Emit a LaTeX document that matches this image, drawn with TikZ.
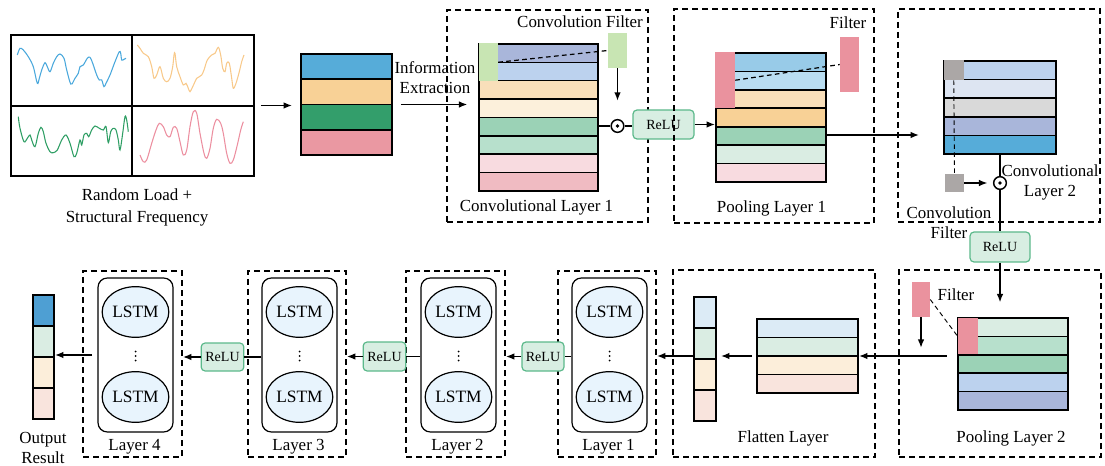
\documentclass[tikz,border=0pt]{standalone}
\usepackage{fontspec}
\setmainfont{Liberation Serif}
\usetikzlibrary{arrows.meta,fit,calc,shapes.geometric}

% layer colours
\definecolor{inBlue}{HTML}{56ACD9}
\definecolor{inOrange}{HTML}{F8D196}
\definecolor{inGreen}{HTML}{339E6B}
\definecolor{inPink}{HTML}{EA98A2}
\definecolor{cLav}{HTML}{A9B6DA}
\definecolor{cLBlue}{HTML}{BCD2EE}
\definecolor{cLOrange}{HTML}{F9DFBA}
\definecolor{cCream}{HTML}{FCF0DB}
\definecolor{cGreen}{HTML}{9BD2B6}
\definecolor{cLGreen}{HTML}{B7E0CC}
\definecolor{cLPink}{HTML}{F8DBE0}
\definecolor{cPink}{HTML}{F0BBC2}
\definecolor{pSky}{HTML}{98CBE8}
\definecolor{pLSky}{HTML}{B9DDF1}
\definecolor{pMint}{HTML}{DAEDE3}
\definecolor{gPale}{HTML}{DDE5F2}
\definecolor{gGray}{HTML}{D9D9D9}
\definecolor{fBlue}{HTML}{DCEBF6}
\definecolor{fCream}{HTML}{FCEEDA}
\definecolor{fPeach}{HTML}{F9E4DD}
\definecolor{oBlue}{HTML}{4E9FD3}
\definecolor{filtGreen}{HTML}{C8E5B3}
\definecolor{filtPink}{HTML}{EA929E}
\definecolor{filtGray}{HTML}{ABA7A6}
\definecolor{lstmFill}{HTML}{E8F4FD}
\definecolor{reluFill}{HTML}{D8EEE2}
\definecolor{reluDraw}{HTML}{5CB98B}
\definecolor{waveBlue}{HTML}{4AA8DC}
\definecolor{waveOrange}{HTML}{F8C98A}
\definecolor{waveGreen}{HTML}{2E9E64}
\definecolor{wavePink}{HTML}{EC8FA0}

% a column of filled rows: x-left, x-right, y-top, row height, colours
\newcommand\rowstack[5]{%
  \foreach \c [count=\i from 0] in {#5}
    \draw[rowline, fill=\c] (#1,{#3+\i*#4}) rectangle (#2,{#3+(\i+1)*#4});
}

\begin{document}
\begin{tikzpicture}[x=0.75pt, y=-0.75pt,
  font=\fontsize{12.7pt}{15pt}\selectfont,
  rowline/.style={line width=1.2pt},
  frame/.style={draw, line width=1.2pt, inner sep=0pt},
  patch/.style={inner sep=0pt, draw=none},
  dashbox/.style={draw, line width=1.1pt, dash pattern=on 4.5pt off 3pt, inner sep=0pt},
  arr/.style={line width=1.3pt, -{Latex[length=6.5pt,width=5pt]}},
  link/.style={line width=1.3pt},
  thindash/.style={line width=0.7pt, dash pattern=on 3.5pt off 2.5pt},
  odot/.style={circle, draw, line width=1.1pt, fill=white, minimum size=9.5pt, inner sep=0pt,
    path picture={\fill[black] (path picture bounding box.center) circle (1.4pt);}},
  vdots/.style={minimum width=3pt, minimum height=10pt, inner sep=0pt,
    path picture={\foreach \k in {-1,0,1}
      \fill[black] ($(path picture bounding box.center)+(0,\k*4.5)$) circle (0.75pt);}},
  relu/.style={draw=reluDraw, fill=reluFill, line width=0.9pt, rounded corners=3pt,
    minimum height=21.75pt, inner sep=1pt, font=\fontsize{10.5pt}{12pt}\selectfont},
  lstmbox/.style={draw, line width=0.9pt, rounded corners=7pt, inner sep=0pt},
  lstm/.style={ellipse, draw, line width=0.9pt, fill=lstmFill, minimum width=50pt,
    minimum height=38pt, inner sep=0pt, font=\fontsize{13pt}{15pt}\selectfont},
  wave/.style={line width=0.8pt, smooth, tension=0.55},
]
\useasboundingbox (0,0) rectangle (1105,466);

% ---------------- signal panel ----------------
\node[frame, line width=1.3pt, fit={(11,35)(254,176)}] (grid) {};
\draw[line width=1.3pt] (132,35) -- (132,176) (11,106) -- (254,106);
\draw[wave, waveBlue] plot coordinates {(17.3,55) (20,48.3) (23.3,50) (28.3,56.7) (33.3,66.7)
  (37.3,83.3) (39.3,78.3) (41.7,70) (45,62.7) (47.3,66.7) (50,71.7) (53.3,63.3) (56.7,56.7)
  (60,54) (64,58.3) (66.7,70) (70.7,84) (73.3,81.7) (75,78.3) (78.3,73.3) (80,66.7) (83.3,65)
  (87.3,58.3) (90,57.3) (92.7,63.3) (96.7,75) (99.3,80) (101.7,80) (104,86.7) (106,83.3)
  (110,75) (115,61.7) (119.3,51.7) (120.7,53.3) (121.7,60) (124,59.3) (126,58.3)};
\draw[wave, waveOrange] plot coordinates {(137.3,45) (140,48.3) (143.3,53.3) (148.3,56.7)
  (151.7,66.7) (154,78.3) (156.7,75) (160,66.7) (163.3,78.3) (166.7,81.7) (170,78.3)
  (172.7,66.7) (174,55) (175,53.3) (176.7,66.7) (180,76.7) (183.3,85) (186,83.3) (188.3,88.3)
  (190,91.7) (192.7,86.7) (196.7,78.3) (199.3,76.7) (201.7,75) (204,70) (207.3,60) (211.7,55)
  (215,53.3) (218.3,47.3) (220.7,55) (222.7,68.3) (225,71.7) (226.7,63.3) (229.3,63.3)
  (231.7,78.3) (233.3,88.3) (236,83.3) (239.3,71.7) (241.7,61.7) (244,55)};
\draw[wave, waveGreen] plot coordinates {(18.3,116.7) (20,128.3) (24,141.7) (27.3,138.3)
  (30,135) (31.7,140) (35,146.7) (38.3,133.3) (41,127.3) (43.3,131.7) (46,143.3) (50,151.7)
  (53.3,152.7) (57.3,150) (61.7,140) (66,135) (70,143.3) (74,156.7) (76.7,153.3) (80,140)
  (81.7,145) (84,135) (86.7,133.3) (88.7,136.7) (91.7,130) (95,126) (99.3,128.3) (103.3,130)
  (106,126.7) (108.3,142.7) (110.7,131.7) (113.3,128.3) (116,130) (118.3,140) (120,150)
  (122.7,133.3) (125,116.7) (126.7,120) (128.3,131.7)};
\draw[wave, wavePink] plot coordinates {(140,155) (143.3,161.7) (146.7,160) (151.7,143.3)
  (156,130) (159.3,123.3) (163.3,126.7) (166.7,135) (170,136.7) (173.3,127.3) (176.7,128.3)
  (180,141.7) (183.3,155) (186.7,150) (190,126.7) (193.3,111.7) (196.7,113.3) (200,133.3)
  (204,153.3) (206.7,158.3) (210,148.3) (213.3,128.3) (216.7,119.3) (220.7,123.3)
  (223.3,133.3) (226.7,153.3) (230,163.3) (233.3,160) (237.3,145) (240.7,130) (243.3,121.7)};
\node[align=center, font=\fontsize{12.7pt}{16.5pt}\selectfont] (gridlbl) at (137,207)
  {Random Load +\\Structural Frequency};

% ---------------- input block ----------------
\rowstack{301}{392}{54}{25.25}{inBlue,inOrange,inGreen,inPink}
\node[frame, fit={(301,54)(392,155)}] (input) {};
\draw[arr, shorten <=4.5pt, shorten >=6pt] (grid.east) -- (grid.east -| input.west);

\node[align=center] (infolbl) at (435,78) {Information\\Extraction};

% ---------------- convolutional layer 1 ----------------
\node[dashbox, fit={(447,10)(648,222)}] (conv1box) {};
\rowstack{479}{598}{44}{18.35}{cLav,cLBlue,cLOrange,cCream,cGreen,cLGreen,cLPink,cPink}
\node[frame, fit={(479,44)(598,190.8)}] (conv1) {};
\node[patch, fill=filtGreen, fit={(478.5,43.5)(498,81)}] (conv1win) {};
\node[patch, fill=filtGreen, fit={(608,33)(627,68)}] (conv1filt) {};
\draw[thindash, line width=0.9pt] (conv1win.east) -- (conv1filt.west);
\node (conv1filtlbl) at (580,22) {Convolution Filter};
\node (conv1lbl) at (536.5,207) {Convolutional Layer 1};
\draw[arr, shorten <=6pt, shorten >=8pt] (input.east) -- (input.east -| conv1.west);

\node[odot] (od1) at (617.5,126) {};
\node[relu, minimum width=45.75pt] (relu1) at (663.5,124.5) {ReLU};
\draw[link] (conv1.east |- od1) -- (od1.west);
\draw[link] (od1.east) -- (od1.east -| relu1.west);
\draw[arr, shorten >=13.5pt] (conv1filt.south -| od1) -- (od1.north);

% ---------------- pooling layer 1 ----------------
\node[dashbox, fit={(674,9)(874,223)}] (pool1box) {};
\rowstack{716}{826}{53}{18.43}{pSky,pLSky,cLOrange,inOrange,cGreen,pMint,cLPink}
\node[frame, fit={(716,53)(826,182)}] (pool1) {};
\node[patch, fill=filtPink, fit={(715,52.5)(735,108)}] (pool1win) {};
\node[patch, fill=filtPink, fit={(840,37)(859,92)}] (pool1filt) {};
\draw[thindash, line width=0.9pt] (pool1win.east) -- (pool1filt.west);
\node (pool1filtlbl) at (848,23) {Filter};
\node (pool1lbl) at (771.5,208) {Pooling Layer 1};
\draw[arr] (relu1.east) -- (relu1.east -| pool1.west);

% ---------------- convolutional layer 2 ----------------
\node[dashbox, fit={(898,9)(1100,222)}] (conv2box) {};
\rowstack{944}{1056}{61}{18.6}{cLBlue,gPale,gGray,cLav,inBlue}
\node[frame, fit={(944,61)(1056,154)}] (conv2) {};
\node[patch, fill=filtGray, fit={(943.5,60.5)(964,80)}] (conv2win) {};
\node[patch, fill=filtGray, fit={(945,174)(964,192)}] (conv2filt) {};
\draw[thindash] (conv2win.south) -- (conv2filt.north);
\coordinate (p1out) at ($(pool1.east)+(0,17.5)$);
\draw[arr, shorten >=18pt] (p1out) -- (p1out -| conv2.west);

\node[odot] (od2) at (1000,183) {};
\draw[link] (conv2.south -| od2) -- (od2.north);
\draw[arr, shorten >=4pt] (conv2filt.east) -- (od2.west);
\node[align=center] (conv2lbl) at (1050,182) {Convolutional\\Layer 2};
\node[align=center] (conv2filtlbl) at (949,223) {Convolution\\Filter};

\node[relu, minimum width=45pt, minimum height=22.5pt] (relu2) at (1000,247) {ReLU};
\draw[link] (od2.south) -- (relu2.north);

% ---------------- pooling layer 2 ----------------
\node[dashbox, fit={(899,270)(1101,457)}] (pool2box) {};
\rowstack{958}{1068}{318}{18.4}{pMint,cLGreen,cGreen,cLBlue,cLav}
\node[frame, fit={(958,318)(1068,410)}] (pool2) {};
\node[patch, fill=filtPink, fit={(957.5,317.5)(978,354)}] (pool2win) {};
\node[patch, fill=filtPink, fit={(912,282)(930,317)}] (pool2filt) {};
\draw[thindash] (pool2filt.east) -- (pool2win.west);
\node (pool2filtlbl) at (956,295) {Filter};
\coordinate (pf2end) at (921,348);
\draw[arr] (pool2filt.south) -- (pf2end);
\draw[arr, shorten >=11pt] (relu2.south) -- (relu2.south |- pool2.north);
\node (pool2lbl) at (1011,438) {Pooling Layer 2};

% ---------------- flatten layer ----------------
\node[dashbox, fit={(673,270)(875,457)}] (flatbox) {};
\rowstack{757}{858}{319}{18.5}{fBlue,pMint,fCream,fPeach}
\node[frame, fit={(757,319)(858,393)}] (flat) {};
\rowstack{694}{716}{297}{31}{fBlue,pMint,fCream,fPeach}
\node[frame, fit={(694,297)(716,421)}] (flatvec) {};
\draw[arr, shorten <=8pt] (pool2.west |- flat.east) -- (flat.east);
\draw[arr, shorten <=3pt, shorten >=3pt] (flat.west) -- (flat.west -| flatvec.east);
\node (flatlbl) at (783,438) {Flatten Layer};

% ---------------- LSTM layers ----------------
\foreach \nm/\dl/\dr/\il/\ir/\cx/\lbl in {L1/558/656/572/647/609.5/Layer 1,
    L2/406/505/421/496/458.5/Layer 2, L3/248/346/262/337/299.5/Layer 3,
    L4/83/182/98/173/135.5/Layer 4} {
  \node[dashbox, fit={(\dl,271)(\dr,457)}] (\nm) {};
  \node[lstmbox, fit={(\il,278)(\ir,432)}] (\nm in) {};
  \node[lstm] (\nm a) at (\cx,312) {LSTM};
  \node[lstm] (\nm b) at (\cx,397) {LSTM};
  \node[vdots] (\nm dots) at (\cx,356) {};
  \node (\nm lbl) at (\cx-1,447) {\lbl};
}
\draw[arr] (flatvec.west |- flat.west) -- (flat.west -| L1.east);

\node[relu, minimum width=31.5pt] (reluA) at (543,356.5) {ReLU};
\node[relu, minimum width=32pt] (reluB) at (384.5,356.5) {ReLU};
\node[relu, minimum width=32pt, minimum height=21pt] (reluC) at (222.5,357) {ReLU};
\draw[link] (L1in.west |- reluA) -- (reluA.east);
\draw[arr] (reluA.west) -- (reluA.west -| L2.east);
\draw[link] (L2in.west |- reluB) -- (reluB.east);
\draw[arr] (reluB.west) -- (reluB.west -| L3.east);
\draw[link] (L3in.west |- reluC) -- (reluC.east);
\draw[arr] (reluC.west) -- (reluC.west -| L4.east);

% ---------------- output ----------------
\rowstack{33}{54}{295}{31}{oBlue,pMint,fCream,fPeach}
\node[frame, fit={(33,295)(54,419)}] (outvec) {};
\draw[arr, shorten <=4pt] (L4in.west) -- (L4in.west -| outvec.east);
\node[align=center] (outlbl) at (43,447.5) {Output\\Result};
\end{tikzpicture}
\end{document}
